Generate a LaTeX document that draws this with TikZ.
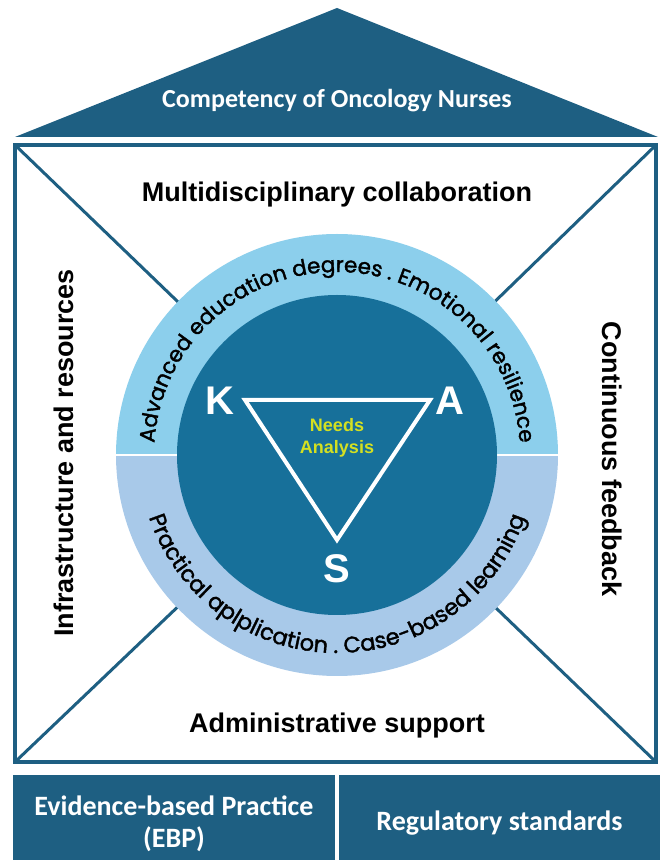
\documentclass[tikz,border=0pt]{standalone}
\usepackage{fontspec}
\setmainfont{Liberation Sans}
\newfontfamily\bandfont{Carlito}
\newfontfamily\ringfont[FakeBold=1.6]{Poppins}
\usetikzlibrary{decorations.text}
\definecolor{roofblue}{HTML}{1E5F82}
\definecolor{coreblue}{HTML}{17709A}
\definecolor{skyring}{HTML}{8CCFEC}
\definecolor{palering}{HTML}{A8C9E9}
\definecolor{needsyellow}{HTML}{D4E021}
\newcommand{\ringtext}[1]{\ringfont\fontsize{#1}{#1}\selectfont}

\begin{document}
\begin{tikzpicture}[x=1pt,y=1pt,
  pillar/.style={font=\bfseries\fontsize{27}{30}\selectfont,anchor=base},
  band/.style={text=white,font=\bandfont\bfseries\fontsize{28}{32}\selectfont,align=center},
  kas/.style={text=white,font=\bfseries\fontsize{40}{40}\selectfont,anchor=base}]
  \fill[white] (0,0) rectangle (660,860);
  \useasboundingbox (0,0) rectangle (660,860);

  \coordinate (c) at (337,405);
  \coordinate (tl) at (15,715);
  \coordinate (tr) at (656,715);
  \coordinate (bl) at (15,98);
  \coordinate (br) at (656,98);

  \fill[roofblue] (15,723) -- (337,852) -- (658,723) -- cycle;
  \node at (337,752) [band,anchor=base,font=\bandfont\bfseries\fontsize{26}{30}\selectfont] (roof) {Competency of Oncology Nurses};

  \fill[roofblue] (13,0) rectangle (335,85);
  \fill[roofblue] (339,0) rectangle (660,85);
  \node at (174,36) [band] (ebp) {Evidence-based Practice\\(EBP)};
  \node at (499.5,37) [band] (reg) {Regulatory standards};

  \draw[roofblue,line width=3] (tl) -- (c);
  \draw[roofblue,line width=3] (tr) -- (c);
  \draw[roofblue,line width=3] (bl) -- (c);
  \draw[roofblue,line width=3] (br) -- (c);
  \draw[roofblue,line width=4.5] (tl) rectangle (br);

  \fill[skyring] ([shift={(0:221pt)}]c) arc[start angle=0,end angle=180,radius=221pt] -- cycle;
  \fill[palering] ([shift={(180:221pt)}]c) arc[start angle=180,end angle=360,radius=221pt] -- cycle;
  \draw[white,line width=2.5] ([shift={(180:222pt)}]c) -- ([shift={(0:222pt)}]c);
  \fill[coreblue] (c) circle[radius=160pt];

  \path[decorate,decoration={text along path,text align=center,
    text={|\ringtext{21.5}|Advanced education degrees . Emotional resilience}}]
    ([shift={(179:183pt)}]c) arc[start angle=179,end angle=1,radius=183pt];
  \path[decorate,decoration={text along path,text align=center,
    text={|\ringtext{22.5}|Practical aplplication . Case-based learning}}]
    ([shift={(181:198pt)}]c) arc[start angle=181,end angle=359,radius=198pt];

  \coordinate (kv) at (245,460);
  \coordinate (av) at (430,460);
  \coordinate (sv) at (337,320);
  \draw[white,line width=4,line join=miter] (kv) -- (av) -- (sv) -- cycle;

  \node at (220,445) [kas] (k) {K};
  \node at (450,445) [kas] (a) {A};
  \node at (337,277) [kas] (s) {S};
  \node at (337,422) [text=needsyellow,font=\bfseries\fontsize{18}{22}\selectfont,align=center] (needs) {Needs\\Analysis};

  \node at (337,658) [pillar] (multi) {Multidisciplinary collaboration};
  \node at (337,127) [pillar] (admin) {Administrative support};
  \node at (73,407) [pillar,rotate=90] (infra) {Infrastructure and resources};
  \node at (602,401) [pillar,rotate=-90] (feedback) {Continuous feedback};
\end{tikzpicture}
\end{document}
